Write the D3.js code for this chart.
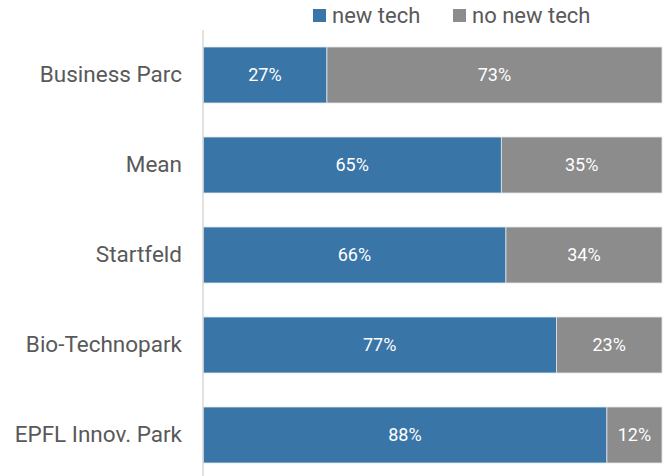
<!DOCTYPE html>
<html>
<head>
<meta charset="utf-8">
<script src="https://cdn.jsdelivr.net/npm/d3@7"></script>
<style>
  html, body { margin: 0; padding: 0; background: #fff; }
  svg { display: block; }
  text { font-family: "Roboto", "Liberation Sans", sans-serif; }
</style>
</head>
<body>
<svg id="chart" width="669" height="476"></svg>
<script>
const categories = ["Business Parc", "Mean", "Startfeld", "Bio-Technopark", "EPFL Innov. Park"];
const newTech = [27, 65, 66, 77, 88];
const noNewTech = [73, 35, 34, 23, 12];
const seriesNames = ["new tech", "no new tech"];
const seriesColors = ["#3A75A8", "#8C8C8C"];

const svg = d3.select("#chart");
const margin = { left: 203, right: 7, top: 30, bottom: -4 };
const W = 669, H = 476;

const rows = categories.map((c, i) => ({ cat: c, "new tech": newTech[i], "no new tech": noNewTech[i] }));
const stack = d3.stack().keys(seriesNames)(rows);

const x = d3.scaleLinear().domain([0, 100]).range([margin.left, W - margin.right]);
const y = d3.scaleBand().domain(categories).range([margin.top, H - margin.bottom]).paddingInner(0.378).paddingOuter(0.189);
const color = d3.scaleOrdinal().domain(seriesNames).range(seriesColors);

// bars
const g = svg.append("g");
stack.forEach(layer => {
  const lg = g.append("g").attr("fill", color(layer.key));
  lg.selectAll("rect").data(layer).join("rect")
    .attr("x", d => x(d[0]))
    .attr("y", d => y(d.data.cat))
    .attr("width", d => x(d[1]) - x(d[0]))
    .attr("height", y.bandwidth())
    .attr("stroke", "#dfe6ee")
    .attr("stroke-width", 0.8);
  lg.selectAll("text").data(layer).join("text")
    .attr("x", d => (x(d[0]) + x(d[1])) / 2)
    .attr("y", d => y(d.data.cat) + y.bandwidth() / 2)
    .attr("dy", "0.35em")
    .attr("text-anchor", "middle")
    .attr("fill", "#ffffff")
    .attr("font-size", 18)
    .text(d => Math.round(d[1] - d[0]) + "%");
});

// y axis
const yAxis = d3.axisLeft(y).tickSize(0).tickPadding(21);
const ya = svg.append("g").attr("transform", `translate(${margin.left},0)`).call(yAxis);
ya.select(".domain").attr("stroke", "#d9d9d9").attr("stroke-width", 1.5)
  .attr("d", `M0,${margin.top}V${H}`);
ya.selectAll(".tick text").attr("fill", "#595959").attr("font-size", 22.5)
  .attr("font-family", "Roboto, sans-serif");

// legend
const legendX = [313, 453];
const leg = svg.append("g");
seriesNames.forEach((s, i) => {
  leg.append("rect").attr("x", legendX[i]).attr("y", 9).attr("width", 13).attr("height", 13).attr("fill", color(s));
  leg.append("text").attr("x", legendX[i] + 19).attr("y", 15.5).attr("dy", "0.35em")
    .attr("fill", "#595959").attr("font-size", 22).text(s);
});
</script>
</body>
</html>
